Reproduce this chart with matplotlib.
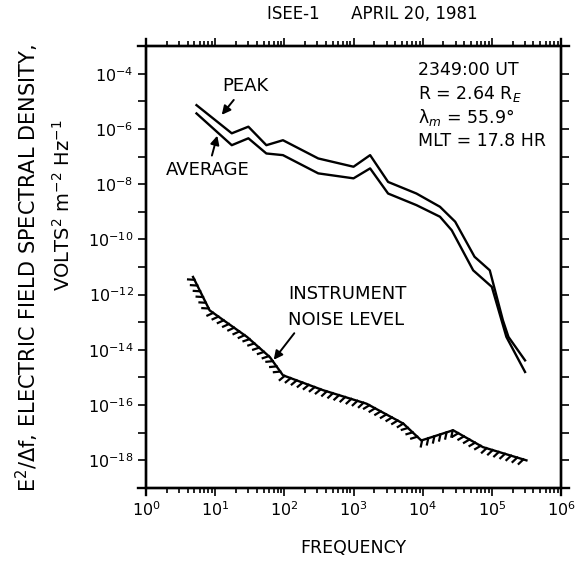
import matplotlib
matplotlib.use("Agg")
import matplotlib.pyplot as plt
import matplotlib.patheffects as pe
from matplotlib.ticker import FixedLocator, FuncFormatter, LogLocator, NullFormatter
import numpy as np

# spectra (log10 frequency, log10 E^2/df)
peak_logf = [0.73, 1.24, 1.48, 1.74, 1.98, 2.49, 3.00, 3.24, 3.50, 3.91, 4.25, 4.47, 4.75, 4.97, 5.16, 5.24, 5.48]
peak_logE = [-5.14, -6.16, -5.92, -6.59, -6.41, -7.07, -7.37, -6.95, -7.92, -8.34, -8.82, -9.36, -10.63, -11.12, -12.93, -13.53, -14.38]

avg_logf = [0.73, 1.24, 1.48, 1.74, 1.98, 2.49, 3.00, 3.24, 3.50, 3.91, 4.25, 4.42, 4.73, 5.00, 5.21, 5.48]
avg_logE = [-5.44, -6.59, -6.34, -6.89, -6.95, -7.61, -7.79, -7.43, -8.34, -8.76, -9.18, -9.67, -11.12, -11.72, -13.53, -14.80]

noise_logf = [0.68, 0.92, 1.46, 1.79, 1.98, 2.56, 3.19, 3.72, 3.98, 4.44, 4.87, 5.50]
noise_logE = [-11.36, -12.57, -13.53, -14.26, -14.92, -15.46, -15.95, -16.67, -17.28, -16.91, -17.52, -18.00]

x_decades = [0, 1, 2, 3, 4, 5, 6]
y_decades = list(range(-19, -2))

fig = plt.figure(figsize=(5.81, 5.62), dpi=100)
ax = fig.add_axes([0.2513, 0.1317, 0.7143, 0.7864])
ax.set_xscale("log")
ax.set_yscale("log")
ax.set_xlim(1, 1e6)
ax.set_ylim(1e-19, 1e-3)

lw = 1.7
ax.plot(10.0 ** np.array(peak_logf), 10.0 ** np.array(peak_logE), color="black", lw=lw)
ax.plot(10.0 ** np.array(avg_logf), 10.0 ** np.array(avg_logE), color="black", lw=lw)
ax.plot(10.0 ** np.array(noise_logf), 10.0 ** np.array(noise_logE), color="black", lw=lw,
        path_effects=[pe.withTickedStroke(spacing=4.6, angle=-120, length=1.0, linewidth=1.6)])

# ticks
ax.xaxis.set_major_locator(FixedLocator([10.0 ** d for d in x_decades]))
ax.xaxis.set_minor_locator(LogLocator(base=10, subs=np.arange(2, 10), numticks=20))
ax.xaxis.set_minor_formatter(NullFormatter())
ax.xaxis.set_major_formatter(FuncFormatter(lambda v, p: r"$10^{%d}$" % round(np.log10(v))))
ax.yaxis.set_major_locator(FixedLocator([10.0 ** d for d in y_decades]))
ax.yaxis.set_minor_locator(FixedLocator([]))


def ylab(v, p):
    e = int(round(np.log10(v)))
    if e % 2 == 0 and -18 <= e <= -4:
        return r"$10^{%d}$" % e
    return ""


ax.yaxis.set_major_formatter(FuncFormatter(ylab))
ax.tick_params(which="both", direction="out", top=True, right=True, width=1.2, labelsize=11.5)
ax.tick_params(which="major", length=6, pad=3)
ax.tick_params(which="minor", length=3.5)
for s in ax.spines.values():
    s.set_linewidth(1.7)

# spine overhang at corners, like the hand-drawn frame
for yy in (0, 1):
    ax.plot([-0.02, 1.02], [yy, yy], transform=ax.transAxes, color="black", lw=1.7, clip_on=False)
for xx in (0, 1):
    ax.plot([xx, xx], [-0.015, 1.015], transform=ax.transAxes, color="black", lw=1.7, clip_on=False)

fs = 13
ax.set_xlabel("FREQUENCY", fontsize=12.5, labelpad=14)
fig.text(0.047, 0.523, "E$^2$/Δf, ELECTRIC FIELD SPECTRAL DENSITY,", rotation=90,
         ha="center", va="center", fontsize=15)
fig.text(0.108, 0.635, "VOLTS$^2$ m$^{-2}$ Hz$^{-1}$", rotation=90,
         ha="center", va="center", fontsize=14)
fig.text(0.64, 0.975, "ISEE-1      APRIL 20, 1981", ha="center", va="center", fontsize=12)

# run info
info = ["2349:00 UT", "R = 2.64 R$_E$", r"λ$_m$ = 55.9°", "MLT = 17.8 HR"]
for i, line in enumerate(info):
    ax.annotate(line, xy=(418, 562 - 70 - i * 23.5), xycoords="figure pixels",
                fontsize=12.5, va="center", ha="left")

arrow = dict(arrowstyle="-|>", color="black", lw=1.4, mutation_scale=13)
ax.annotate("PEAK", xy=(220, 562 - 117), xytext=(245, 562 - 86), xycoords="figure pixels",
            textcoords="figure pixels", fontsize=fs, ha="center", va="center", arrowprops=arrow)
ax.annotate("AVERAGE", xy=(218, 562 - 133), xytext=(208, 562 - 170), xycoords="figure pixels",
            textcoords="figure pixels", fontsize=fs, ha="center", va="center", arrowprops=arrow)
ax.annotate("INSTRUMENT\nNOISE LEVEL", xy=(272, 562 - 362), xytext=(288, 562 - 307),
            xycoords="figure pixels", textcoords="figure pixels", fontsize=fs,
            ha="left", va="center", linespacing=1.6)
ax.annotate("", xy=(272, 562 - 362), xytext=(296, 562 - 331), xycoords="figure pixels",
            textcoords="figure pixels", arrowprops=arrow)

fig.savefig("out.png", dpi=100)
